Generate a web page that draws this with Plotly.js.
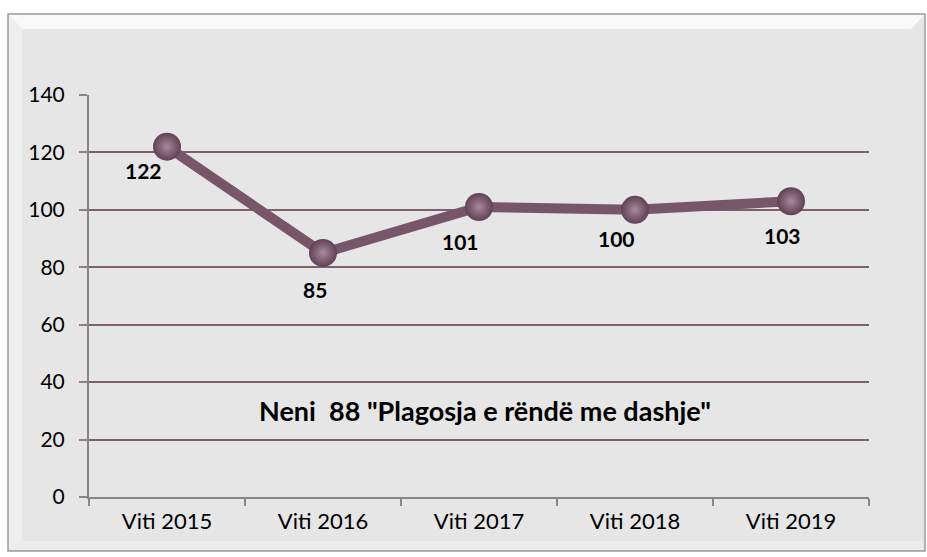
<!DOCTYPE html>
<html>
<head>
<meta charset="utf-8">
<script src="https://cdn.plot.ly/plotly-3.0.1.min.js"></script>
<style>html,body{margin:0;padding:0;background:#fff;}#chart{width:927px;height:557px;}</style>
</head>
<body>
<div id="chart"></div>
<script>
const categories = ["Viti 2015", "Viti 2016", "Viti 2017", "Viti 2018", "Viti 2019"];
const values = [122, 85, 101, 100, 103];
const yTicks = [0, 20, 40, 60, 80, 100, 120, 140];
const chartTitle = 'Neni  88 "Plagosja e rëndë me dashje"';

// label offsets (pixels) relative to each point
const labelDx = [-24, -8, -19, -19, -9];
const labelDy = [-24, -37, -35, -29, -34];

const W = 927, H = 557;
const M = {l: 89, r: 58, t: 95, b: 60};
const PW = W - M.l - M.r, PH = H - M.t - M.b;
const px = x => (x - M.l) / PW;
const py = y => (H - M.b - y) / PH;

const FONT = 'Lato, "Open Sans", sans-serif';

const frameL = 8, frameR = 925, frameT = 14, frameB = 551;
function rectPath(pts){
  return 'M' + pts.map(p => px(p[0]) + ',' + py(p[1])).join(' L') + ' Z';
}
const shapes = [
  {type: 'rect', xref: 'paper', yref: 'paper', layer: 'below',
   x0: px(frameL), x1: px(frameR), y0: py(frameB), y1: py(frameT),
   fillcolor: '#E6E6E6', line: {color: '#9C9C9C', width: 1.5}},
  {type: 'path', xref: 'paper', yref: 'paper', layer: 'below',
   path: rectPath([[frameL+1,frameT+1],[frameR-1,frameT+1],[frameR-14,frameT+15],[frameL+14,frameT+15]]),
   fillcolor: '#FAFAFA', line: {width: 0}},
  {type: 'path', xref: 'paper', yref: 'paper', layer: 'below',
   path: rectPath([[frameL+1,frameT+1],[frameL+14,frameT+15],[frameL+14,frameB-10],[frameL+1,frameB-1]]),
   fillcolor: '#EFEFEF', line: {width: 0}},
  {type: 'path', xref: 'paper', yref: 'paper', layer: 'below',
   path: rectPath([[frameL+1,frameB-1],[frameL+14,frameB-10],[frameR-3,frameB-10],[frameR-1,frameB-1]]),
   fillcolor: '#EDEDED', line: {width: 0}}
];

const annotations = values.map((v, i) => ({
  x: categories[i], y: v, xref: 'x', yref: 'y',
  text: '<b>' + v + '</b>', showarrow: false,
  xshift: labelDx[i], yshift: labelDy[i],
  font: {family: FONT, size: 21, color: '#000'}
}));
annotations.push({
  x: px(485), y: py(410), xref: 'paper', yref: 'paper',
  xanchor: 'center', yanchor: 'middle',
  text: '<b>' + chartTitle + '</b>', showarrow: false,
  font: {family: FONT, size: 27, color: '#000'}
});

const trace = {
  x: categories, y: values, type: 'scatter', mode: 'lines+markers',
  line: {color: '#785669', width: 10},
  marker: {size: 28, color: '#5F4054',
           gradient: {type: 'radial', color: '#A98A9C'},
           line: {width: 0}},
  hoverinfo: 'skip', cliponaxis: false
};

const layout = {
  width: W, height: H,
  margin: M,
  paper_bgcolor: '#FFFFFF',
  plot_bgcolor: 'rgba(0,0,0,0)',
  showlegend: false,
  font: {family: FONT, size: 21, color: '#000'},
  xaxis: {
    type: 'category', range: [-0.5, 4.5], tickson: 'boundaries',
    ticks: 'outside', ticklen: 7, tickcolor: '#868686', tickwidth: 2,
    showline: true, linecolor: '#868686', linewidth: 2,
    showgrid: false, zeroline: false, fixedrange: true,
    ticklabelstandoff: 4,
    tickfont: {family: FONT, size: 22, color: '#000'}
  },
  yaxis: {
    range: [0, 140], tickvals: yTicks, ticktext: yTicks.map(String),
    ticks: 'outside', ticklen: 8, tickcolor: '#868686', tickwidth: 2,
    showline: true, linecolor: '#868686', linewidth: 2,
    showgrid: true, gridcolor: '#7E5F70', gridwidth: 2,
    zeroline: false, fixedrange: true,
    ticklabelstandoff: 10,
    tickfont: {family: FONT, size: 21, color: '#000'}
  },
  shapes: shapes,
  annotations: annotations
};

Plotly.newPlot('chart', [trace], layout, {displayModeBar: false, staticPlot: true});
</script>
</body>
</html>
